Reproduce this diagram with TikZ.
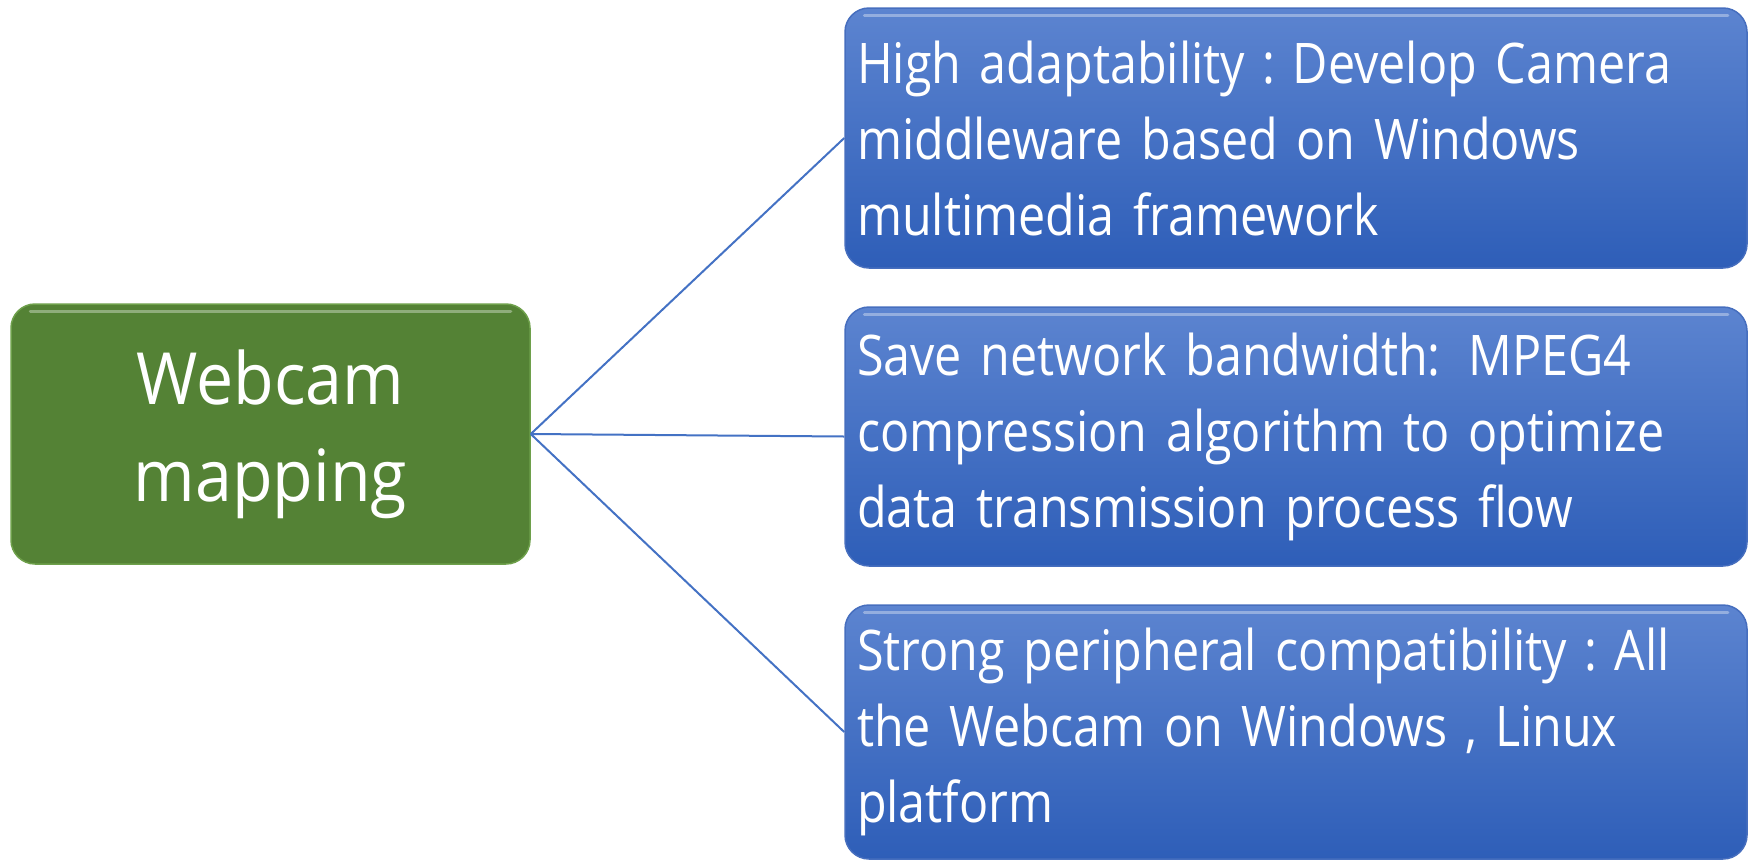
\documentclass[tikz,border=0pt]{standalone}
\usepackage{fontspec}
\setmainfont{Open Sans}
\newfontfamily\bluefont[FakeStretch=0.865]{Open Sans}
\newfontfamily\greenfont[FakeStretch=0.92]{Open Sans}
\newcommand\wcolon{\makebox[0.85em][c]{:}}
\newcommand\wcomma{\makebox[0.85em][c]{,}}
\definecolor{gfill}{RGB}{84,130,53}
\definecolor{gedge}{RGB}{110,160,75}
\definecolor{btop}{RGB}{92,132,208}
\definecolor{bbot}{RGB}{46,94,184}
\definecolor{bedge}{RGB}{70,110,190}
\definecolor{lcol}{RGB}{68,114,196}
\tikzset{
  greenbox/.style={draw=gedge, line width=1.5pt, fill=gfill, rounded corners=24pt,
    minimum width=519pt, minimum height=260pt, text=white, align=center,
    font=\greenfont\fontsize{72}{97}\selectfont, inner sep=0pt},
  bluebox/.style={draw=bedge, line width=1.5pt, top color=btop, bottom color=bbot,
    rounded corners=24pt, minimum width=902pt, text=white, align=left,
    text width=878pt, inner xsep=12pt, inner ysep=0pt,
    font=\bluefont\fontsize{56}{76}\selectfont},
  conn/.style={draw=lcol, line width=2pt}
}
\begin{document}
\begin{tikzpicture}[x=1pt,y=-1pt]
\useasboundingbox (0,0) rectangle (1750,860);
\node[greenbox] (g) at (270.5,434) {Webcam\\mapping};
\node[bluebox, minimum height=260pt] (b1) at (1296,138)
  {High adaptability\wcolon Develop Camera\\middleware based on Windows\\multimedia framework};
\node[bluebox, minimum height=259pt] (b2) at (1296,436.5)
  {Save network bandwidth: MPEG4\\compression algorithm to optimize\\data transmission process flow};
\node[bluebox, minimum height=254pt] (b3) at (1296,732)
  {Strong peripheral compatibility\wcolon All\\the Webcam on Windows\wcomma Linux\\platform};
\foreach \b in {b1,b2,b3}{
  \draw[white, opacity=0.35, line width=3pt, line cap=round]
    ([xshift=20pt,yshift=-8pt]\b.north west) -- ([xshift=-20pt,yshift=-8pt]\b.north east);
}
\draw[white, opacity=0.35, line width=3pt, line cap=round]
    ([xshift=20pt,yshift=-8pt]g.north west) -- ([xshift=-20pt,yshift=-8pt]g.north east);
\draw[conn] (g.east) -- (b1.west);
\draw[conn] (g.east) -- (b2.west);
\draw[conn] (g.east) -- (b3.west);
\end{tikzpicture}
\end{document}
